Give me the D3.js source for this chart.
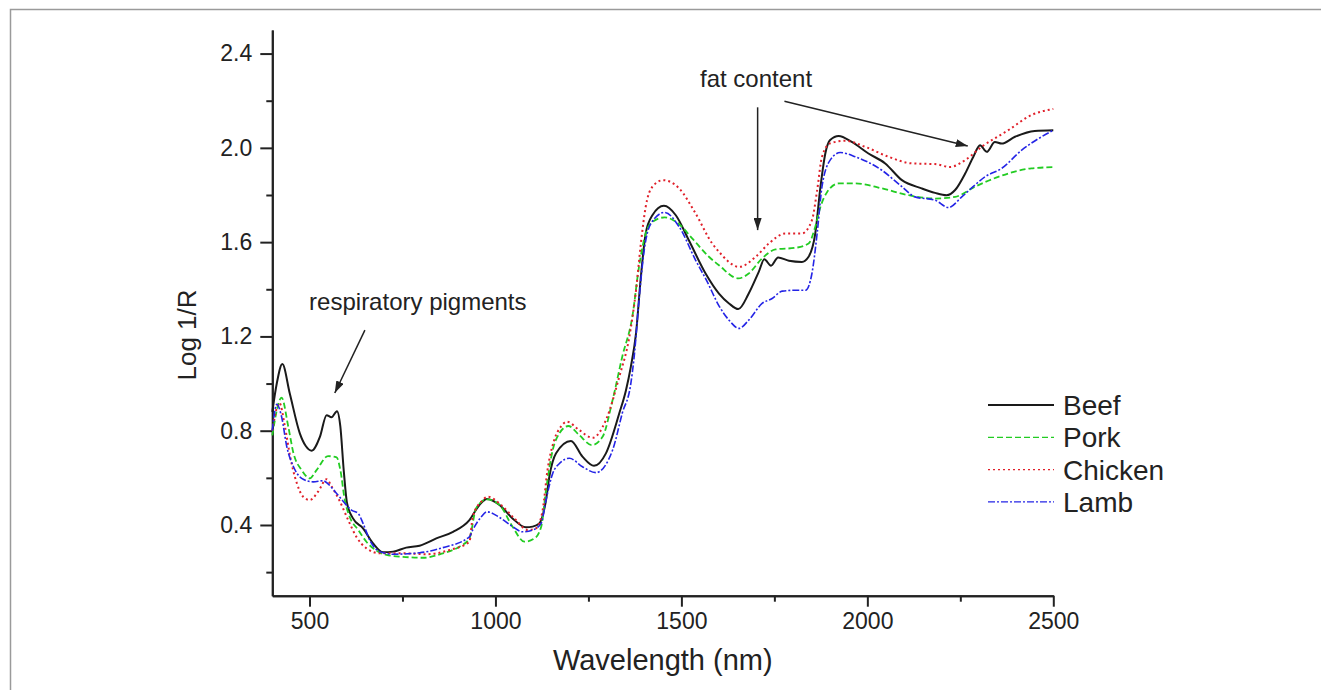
<!DOCTYPE html>
<html>
<head>
<meta charset="utf-8">
<script src="https://cdn.jsdelivr.net/npm/d3@7"></script>
<style>
  body { margin: 0; background: #fff; }
  text { font-family: "Liberation Sans", Arial, sans-serif; fill: #222; }
</style>
</head>
<body>
<svg width="1321" height="690"></svg>
<script>
// NIR spectra, [wavelength nm, log 1/R]
var beef = [[400,0.88],[412,1.0],[427,1.083],[447,0.958],[474,0.789],[490,0.735],[506,0.715],[528,0.774],[546,0.866],[559,0.857],[574,0.883],[583,0.817],[592,0.633],[601,0.492],[617,0.428],[644,0.386],[671,0.322],[698,0.284],[725,0.287],[760,0.304],[796,0.312],[841,0.343],[886,0.371],[930,0.421],[957,0.485],[977,0.51],[1011,0.485],[1046,0.428],[1082,0.39],[1100,0.393],[1118,0.407],[1136,0.506],[1145,0.605],[1163,0.704],[1203,0.756],[1234,0.69],[1265,0.651],[1297,0.704],[1333,0.874],[1351,0.972],[1364,1.071],[1378,1.213],[1391,1.453],[1404,1.637],[1422,1.714],[1453,1.754],[1485,1.714],[1520,1.608],[1565,1.467],[1601,1.382],[1628,1.34],[1653,1.316],[1681,1.382],[1708,1.474],[1723,1.527],[1741,1.5],[1760,1.535],[1789,1.521],[1824,1.516],[1842,1.538],[1860,1.637],[1874,1.835],[1887,1.976],[1900,2.033],[1923,2.05],[1958,2.025],[2003,1.976],[2048,1.934],[2093,1.863],[2146,1.828],[2182,1.809],[2213,1.799],[2236,1.821],[2263,1.891],[2285,1.962],[2303,2.011],[2321,1.983],[2343,2.025],[2361,2.018],[2397,2.047],[2450,2.072],[2500,2.075]];

var pork = [[400,0.78],[425,0.94],[443,0.817],[457,0.704],[479,0.633],[501,0.598],[519,0.633],[550,0.692],[573,0.687],[583,0.633],[595,0.506],[608,0.435],[631,0.379],[653,0.329],[680,0.291],[707,0.273],[751,0.265],[805,0.261],[859,0.28],[903,0.308],[930,0.343],[948,0.471],[977,0.509],[1011,0.485],[1046,0.393],[1078,0.329],[1105,0.343],[1123,0.393],[1136,0.548],[1154,0.718],[1172,0.789],[1196,0.82],[1225,0.782],[1259,0.739],[1288,0.774],[1315,0.93],[1341,1.114],[1368,1.283],[1386,1.495],[1404,1.637],[1422,1.686],[1455,1.705],[1494,1.676],[1529,1.616],[1574,1.538],[1601,1.502],[1653,1.446],[1681,1.467],[1717,1.531],[1753,1.569],[1807,1.576],[1842,1.594],[1860,1.665],[1874,1.75],[1892,1.813],[1923,1.849],[1968,1.849],[2039,1.828],[2111,1.799],[2182,1.785],[2236,1.792],[2289,1.835],[2352,1.877],[2441,1.913],[2500,1.918]];

var chicken = [[400,0.8],[419,0.918],[434,0.817],[448,0.69],[466,0.577],[483,0.52],[501,0.506],[523,0.541],[546,0.594],[559,0.565],[582,0.499],[604,0.421],[626,0.35],[653,0.301],[689,0.28],[751,0.28],[814,0.276],[877,0.294],[930,0.329],[939,0.435],[962,0.499],[980,0.52],[1015,0.485],[1051,0.428],[1087,0.379],[1109,0.386],[1127,0.463],[1140,0.633],[1158,0.76],[1176,0.817],[1192,0.838],[1225,0.803],[1261,0.77],[1297,0.845],[1333,1.029],[1360,1.198],[1378,1.396],[1391,1.594],[1404,1.75],[1422,1.835],[1451,1.863],[1494,1.828],[1538,1.722],[1583,1.594],[1601,1.559],[1655,1.495],[1700,1.538],[1735,1.594],[1780,1.637],[1824,1.637],[1851,1.693],[1865,1.82],[1878,1.962],[1900,2.019],[1941,2.03],[1995,2.004],[2057,1.962],[2120,1.934],[2182,1.931],[2222,1.919],[2263,1.948],[2307,2.004],[2379,2.075],[2441,2.139],[2500,2.165]];

var lamb = [[400,0.8],[412,0.912],[425,0.859],[439,0.732],[457,0.647],[479,0.598],[510,0.583],[537,0.588],[550,0.574],[573,0.534],[595,0.492],[613,0.463],[631,0.449],[644,0.407],[662,0.336],[689,0.287],[725,0.276],[796,0.282],[859,0.304],[930,0.35],[939,0.379],[962,0.435],[977,0.456],[1011,0.432],[1046,0.393],[1073,0.371],[1100,0.379],[1123,0.407],[1136,0.506],[1154,0.619],[1172,0.661],[1199,0.683],[1234,0.647],[1270,0.622],[1315,0.718],[1341,0.874],[1364,1.0],[1373,1.114],[1386,1.354],[1400,1.566],[1418,1.679],[1455,1.726],[1494,1.665],[1538,1.524],[1570,1.43],[1601,1.33],[1628,1.269],[1655,1.234],[1681,1.269],[1717,1.34],[1744,1.361],[1771,1.392],[1807,1.396],[1834,1.396],[1851,1.467],[1865,1.637],[1878,1.835],[1900,1.948],[1927,1.98],[1968,1.962],[2039,1.905],[2093,1.835],[2128,1.792],[2182,1.778],[2218,1.747],[2254,1.792],[2289,1.842],[2316,1.877],[2361,1.913],[2415,1.99],[2500,2.075]];

var seriesNames = ['Beef', 'Pork', 'Chicken', 'Lamb'];
var seriesData = [beef, pork, chicken, lamb];
var seriesColors = ['#1a1a1a', '#22cc22', '#e0202a', '#2424e6'];
var seriesDash = [null, '6,3', '2,3', '7,2,2,2'];
var seriesWidth = [2, 1.8, 2, 1.6];

var xMajor = [500, 1000, 1500, 2000, 2500];
var xMinor = [750, 1250, 1750, 2250];
var yMajor = [0.4, 0.8, 1.2, 1.6, 2.0, 2.4];
var yMinor = [0.2, 0.6, 1.0, 1.4, 1.8, 2.2];

var svg = d3.select('svg');

// grey frame around the figure
svg.append('rect')
  .attr('x', 10.5).attr('y', 9.5)
  .attr('width', 1400).attr('height', 800)
  .attr('fill', 'none')
  .attr('stroke', '#9a9a9a')
  .attr('stroke-width', 1.5);

var xScale = d3.scaleLinear().domain([400, 2500]).range([272.3, 1053.3]);
var yScale = d3.scaleLinear().domain([0.1, 2.5]).range([595.7, 30]);

var xAxis = d3.axisBottom(xScale).tickValues(xMajor).tickSize(11).tickSizeOuter(0)
  .tickPadding(6).tickFormat(d3.format('d'));
var xAxisMinor = d3.axisBottom(xScale).tickValues(xMinor).tickSize(6).tickSizeOuter(0).tickFormat('');
var yAxis = d3.axisLeft(yScale).tickValues(yMajor).tickSize(12).tickSizeOuter(0)
  .tickPadding(8).tickFormat(d3.format('.1f'));
var yAxisMinor = d3.axisLeft(yScale).tickValues(yMinor).tickSize(6).tickSizeOuter(0).tickFormat('');

function styleAxis(g) {
  g.select('.domain').attr('stroke', '#222').attr('stroke-width', 2);
  g.selectAll('.tick line').attr('stroke', '#222').attr('stroke-width', 2);
  g.selectAll('.tick text').style('font-size', '23px').style('font-family', '"Liberation Sans", Arial, sans-serif').attr('fill', '#222');
}

svg.append('g').attr('transform', 'translate(0,' + yScale(0.1) + ')').call(xAxisMinor).call(styleAxis);
svg.append('g').attr('transform', 'translate(0,' + yScale(0.1) + ')').call(xAxis).call(styleAxis);
svg.append('g').attr('transform', 'translate(' + xScale(400) + ',0)').call(yAxisMinor).call(styleAxis);
svg.append('g').attr('transform', 'translate(' + xScale(400) + ',0)').call(yAxis).call(styleAxis);

// spectra
var line = d3.line()
  .x(d => xScale(d[0]))
  .y(d => yScale(d[1]))
  .curve(d3.curveMonotoneX);

svg.append('g')
  .selectAll('path')
  .data(seriesData)
  .enter()
  .append('path')
    .attr('d', line)
    .attr('fill', 'none')
    .attr('stroke', (d, i) => seriesColors[i])
    .attr('stroke-width', (d, i) => seriesWidth[i])
    .attr('stroke-dasharray', (d, i) => seriesDash[i]);

// axis titles
svg.append('text')
  .attr('x', (xScale(400) + xScale(2500)) / 2)
  .attr('y', 670)
  .style('text-anchor', 'middle')
  .style('font-size', '29px')
  .text('Wavelength (nm)');

svg.append('text')
  .attr('transform', 'rotate(-90)')
  .attr('x', -335)
  .attr('y', 196)
  .style('text-anchor', 'middle')
  .style('font-size', '26px')
  .text('Log 1/R');

// legend
var legend = svg.append('g')
  .selectAll('g')
  .data(seriesNames)
  .enter()
  .append('g')
    .attr('transform', (d, i) => 'translate(988,' + (405 + i * 32.3) + ')');

legend.append('line')
  .attr('x1', 0).attr('x2', 66)
  .attr('stroke', (d, i) => seriesColors[i])
  .attr('stroke-width', (d, i) => i == 0 ? 2 : 1.3)
  .attr('stroke-dasharray', (d, i) => seriesDash[i]);

legend.append('text')
  .attr('x', 75)
  .attr('dy', '0.36em')
  .style('font-size', '28px')
  .text(d => d);

// annotations
svg.append('defs').append('marker')
  .attr('id', 'head')
  .attr('viewBox', '0 0 12 8')
  .attr('refX', 12).attr('refY', 4)
  .attr('markerWidth', 12).attr('markerHeight', 8)
  .attr('markerUnits', 'userSpaceOnUse')
  .attr('orient', 'auto')
  .append('path')
    .attr('d', 'M0,0 L12,4 L0,8 Z')
    .attr('fill', '#222');

var arrows = [
  [[649, 1.227], [568, 0.96]],
  [[1705, 2.172], [1705, 1.651]],
  [[1777, 2.198], [2270, 2.008]]
];

svg.append('g')
  .selectAll('line')
  .data(arrows)
  .enter()
  .append('line')
    .attr('x1', d => xScale(d[0][0]))
    .attr('y1', d => yScale(d[0][1]))
    .attr('x2', d => xScale(d[1][0]))
    .attr('y2', d => yScale(d[1][1]))
    .attr('stroke', '#222')
    .attr('stroke-width', 1.5)
    .attr('marker-end', 'url(#head)');

svg.append('text')
  .attr('x', xScale(499))
  .attr('y', yScale(1.312))
  .style('font-size', '24px')
  .text('respiratory pigments');

svg.append('text')
  .attr('x', xScale(1550))
  .attr('y', yScale(2.257))
  .style('font-size', '24px')
  .text('fat content');
</script>
</body>
</html>
